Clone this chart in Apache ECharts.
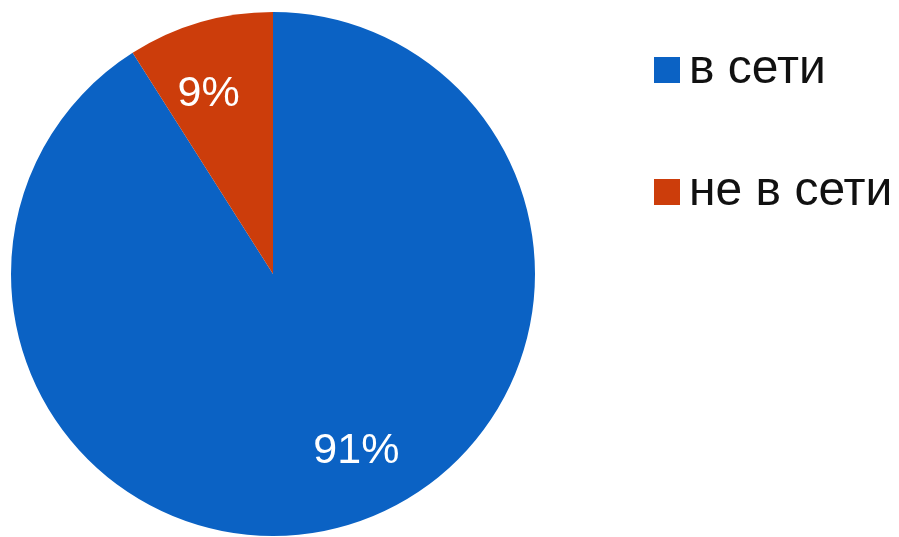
<!DOCTYPE html>
<html>
<head>
<meta charset="utf-8">
<script src="https://cdn.jsdelivr.net/npm/echarts@6/dist/echarts.min.js"></script>
<style>
  html, body { margin: 0; padding: 0; background: #fff; }
  #chart { width: 899px; height: 537px; }
</style>
</head>
<body>
<div id="chart"></div>
<script>
// Share of devices online vs offline
const categories = ['в сети', 'не в сети'];
const shares = [91, 9];
const sliceColors = ['#0b62c4', '#cc3d0b'];

// Label nudges away from the default "inside" anchor, per slice
const labelShift = [[46, 48], [-27, -51]];

const chart = echarts.init(document.getElementById('chart'), null, { renderer: 'canvas' });

chart.setOption({
  backgroundColor: '#ffffff',
  animation: false,
  legend: {
    orient: 'vertical',
    left: 654,
    top: 46,
    padding: 0,
    itemWidth: 26,
    itemHeight: 26,
    itemGap: 74,
    icon: 'rect',
    data: categories,
    textStyle: {
      fontFamily: 'Liberation Sans, Arial, sans-serif',
      fontSize: 48,
      lineHeight: 48,
      color: '#111',
      padding: [0, 0, 0, 4]
    }
  },
  series: [{
    type: 'pie',
    center: [273, 274],
    radius: [0, 262],
    startAngle: 90,
    clockwise: true,
    avoidLabelOverlap: false,
    data: categories.map((name, i) => ({
      name,
      value: shares[i],
      itemStyle: { color: sliceColors[i] }
    })),
    itemStyle: { borderWidth: 0 },
    label: {
      show: true,
      position: 'inside',
      formatter: (p) => p.value + '%',
      color: '#ffffff',
      fontFamily: 'Liberation Sans, Arial, sans-serif',
      fontSize: 43,
      fontWeight: 'normal'
    },
    labelLayout: (p) => ({ dx: labelShift[p.dataIndex][0], dy: labelShift[p.dataIndex][1] }),
    labelLine: { show: false },
    emphasis: { disabled: true }
  }]
});
</script>
</body>
</html>
